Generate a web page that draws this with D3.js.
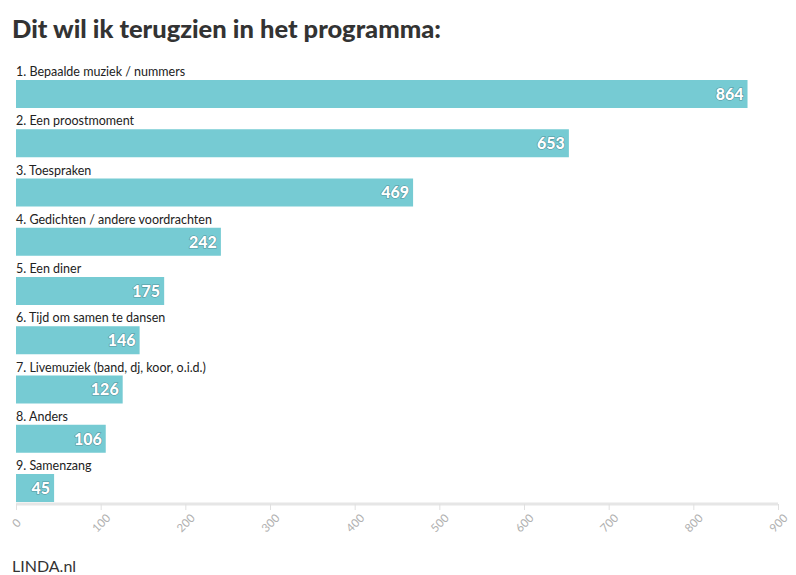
<!DOCTYPE html>
<html><head><meta charset="utf-8">
<script src="https://cdn.jsdelivr.net/npm/d3@7"></script>
<style>
body{margin:0;background:#fff;font-family:"Lato","Open Sans",sans-serif;}
</style></head>
<body><svg id="c" width="796" height="575"></svg>
<script>
const categories = ["1. Bepaalde muziek / nummers","2. Een proostmoment","3. Toespraken","4. Gedichten / andere voordrachten","5. Een diner","6. Tijd om samen te dansen","7. Livemuziek (band, dj, koor, o.i.d.)","8. Anders","9. Samenzang"];
const values = [864,653,469,242,175,146,126,106,45];
const ticks = [0,100,200,300,400,500,600,700,800,900];
const title = "Dit wil ik terugzien in het programma:";
const source = "LINDA.nl";

const svg = d3.select("#c");
const x = d3.scaleLinear().domain([0,900]).range([16,778]);
const y = d3.scaleBand().domain(categories).range([80,502]).paddingInner(0.4315).paddingOuter(0);

svg.append("text").attr("x",12).attr("y",38).text(title)
  .attr("font-size",25.5).attr("font-weight",900).attr("fill","#333");

const rows = svg.append("g").selectAll("g").data(categories).join("g");
rows.append("text").attr("x",16).attr("y",c=>y(c)-4).text(c=>c)
  .attr("font-size",12.5).attr("fill","#222");
rows.append("rect").attr("x",x(0)).attr("y",c=>y(c))
  .attr("width",(c,i)=>x(values[i])-x(0)).attr("height",y.bandwidth()).attr("fill","#76cbd3");
rows.append("text").attr("x",(c,i)=>x(values[i])-4).attr("y",c=>y(c)+y.bandwidth()/2).attr("dy","0.36em")
  .attr("text-anchor","end").text((c,i)=>values[i])
  .attr("font-size",16).attr("font-weight",900).attr("fill","#fff")
  .attr("stroke","#3a6a70").attr("stroke-width",1.2).attr("stroke-opacity",0.6).attr("paint-order","stroke");

const axisY = 504;
const ax = svg.append("g").attr("transform",`translate(0,${axisY})`)
  .call(d3.axisBottom(x).tickValues(ticks).tickSize(6).tickFormat(""));
ax.select(".domain").attr("stroke","#e6e6e6").attr("stroke-width",3).attr("d",`M${x(0)},0H${x(900)}`);
ax.selectAll(".tick line").attr("stroke","#e0e0e0").attr("stroke-width",1);
ax.selectAll(".tick").append("text")
  .attr("transform","translate(0,19) rotate(-45)")
  .attr("text-anchor","middle").attr("dy","0.35em").text(d=>d)
  .attr("font-size",11.5).attr("fill","#b0b0b0").attr("font-family","Lato, sans-serif");

svg.append("text").attr("x",12).attr("y",572).text(source)
  .attr("font-size",16).attr("fill","#333");
</script></body></html>
